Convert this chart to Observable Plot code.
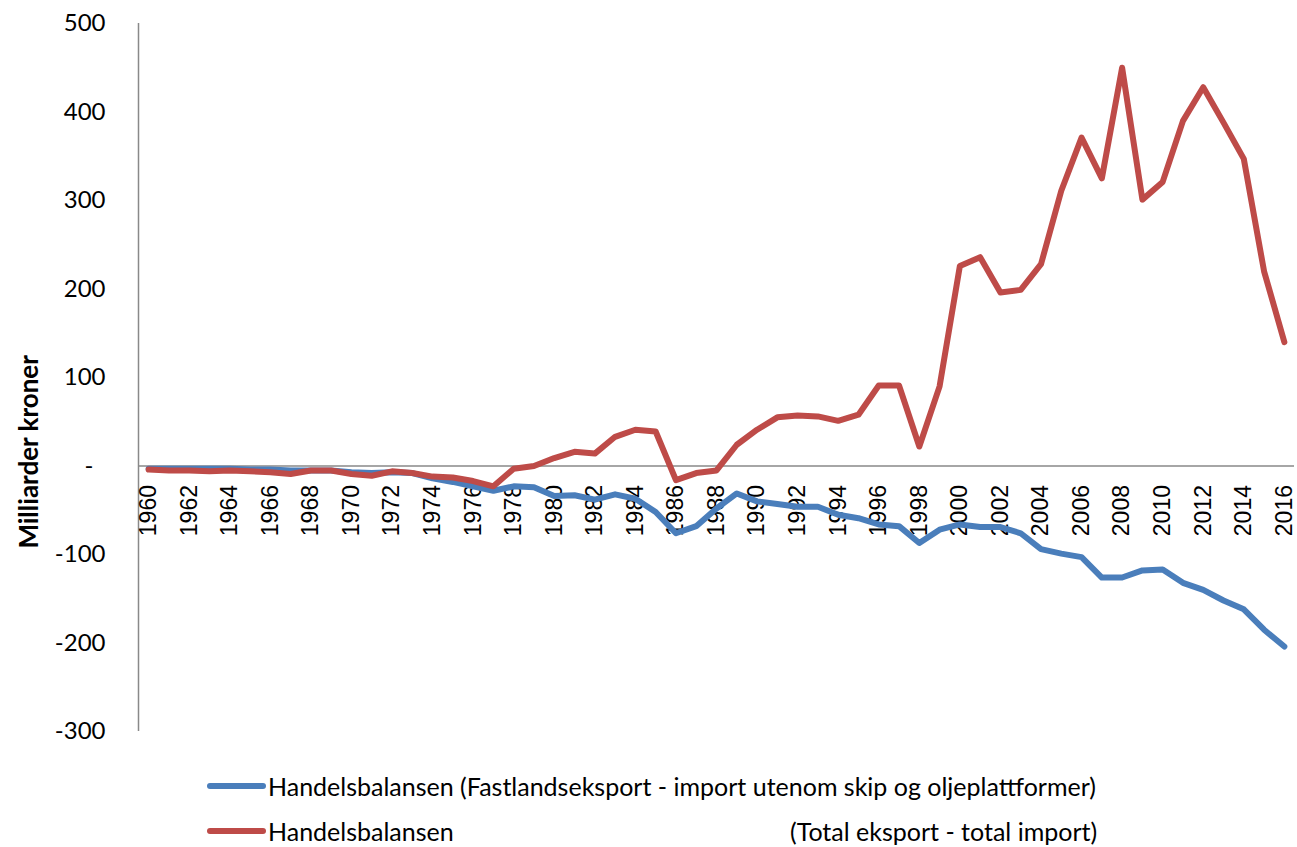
<!DOCTYPE html>
<html>
<head>
<meta charset="utf-8">
<script src="https://cdn.jsdelivr.net/npm/d3@7"></script>
<script src="https://cdn.jsdelivr.net/npm/@observablehq/plot@0.6"></script>
<style>
  body { margin: 0; background: #fff; }
  #wrap { position: relative; width: 1297px; height: 847px; font-family: Lato, "Noto Sans", sans-serif; }
  .leg-line { position: absolute; height: 6px; border-radius: 3px; }
  .leg-text { position: absolute; font-size: 25px; line-height: 30px; color: #000; white-space: pre; }
</style>
</head>
<body>
<div id="wrap"></div>
<script>
const years = d3.range(1960, 2017);
const fastland = [
  -3, -3, -3, -3, -3, -4, -4, -5, -5, -5,
  -7, -8, -7, -8, -14, -18, -23, -28, -23, -24,
  -34, -33, -38, -32, -37, -52, -76, -68, -48, -31,
  -40, -43, -46, -46, -55, -59, -66, -68, -87, -72,
  -66, -69, -69, -76, -94, -99, -103, -126, -126, -118,
  -117, -132, -140, -152, -162, -185, -204
];
const total = [
  -4, -5, -5, -6, -5, -6, -7, -9, -5, -5,
  -9, -11, -6, -8, -12, -13, -17, -23, -3, 0,
  9, 16, 14, 33, 41, 39, -16, -8, -5, 24,
  41, 55, 57, 56, 51, 58, 91, 91, 22, 90,
  226, 236, 196, 199, 228, 311, 371, 325, 450, 301,
  321, 390, 428, 388, 347, 220, 140
];
const yTicks = [-300, -200, -100, 0, 100, 200, 300, 400, 500];
const yearLabels = years.filter(y => y % 2 === 0);
const yTitle = "Milliarder kroner";
const seriesNames = [
  "Handelsbalansen (Fastlandseksport - import utenom skip og oljeplattformer)",
  "Handelsbalansen",
  "(Total eksport - total import)"
];
const colors = ["#4A7EBB", "#BE4B48"];

const blueData = years.map((year, i) => ({year, value: fastland[i]}));
const redData = years.map((year, i) => ({year, value: total[i]}));

const chart = Plot.plot({
  width: 1297,
  height: 760,
  marginLeft: 138,
  marginRight: 3,
  marginTop: 23,
  marginBottom: 29,
  style: {fontFamily: "Lato, 'Noto Sans', sans-serif", fontSize: "24px", color: "#000", background: "#fff"},
  x: {type: "linear", domain: [1959.5, 2016.5], axis: null},
  y: {domain: [-300, 500], axis: null},
  marks: [
    Plot.axisY({ticks: yTicks, tickSize: 0, tickPadding: 33, label: null,
      tickFormat: d => d === 0 ? "-\u2002" : String(d), fontSize: 24}),
    Plot.ruleX([1959.5], {y1: -300, y2: 500, stroke: "#898989", strokeWidth: 1.5}),
    Plot.ruleY([0], {x1: 1959.5, x2: 2016.5, stroke: "#898989", strokeWidth: 1.5}),
    Plot.text(yearLabels, {x: d => d, y: 0, text: d => String(d), rotate: -90,
      textAnchor: "end", dy: 19, fontSize: 23, fontFamily: "'Liberation Sans', Arial, sans-serif", fill: "#000"}),
    Plot.line(blueData, {x: "year", y: "value", stroke: colors[0], strokeWidth: 6,
      strokeLinejoin: "round", strokeLinecap: "round"}),
    Plot.line(redData, {x: "year", y: "value", stroke: colors[1], strokeWidth: 6,
      strokeLinejoin: "round", strokeLinecap: "round"}),
    Plot.text([yTitle], {y: () => 16, frameAnchor: "left", textAnchor: "middle", dx: -109, rotate: -90,
      fontWeight: "bold", fontSize: 26, fill: "#000"})
  ]
});

const wrap = document.getElementById("wrap");
wrap.appendChild(chart);

function legLine(color, cy) {
  const d = document.createElement("div");
  d.className = "leg-line";
  d.style.left = "207px"; d.style.width = "59px"; d.style.top = (cy - 3) + "px";
  d.style.background = color;
  wrap.appendChild(d);
}
function legText(txt, x, cy) {
  const d = document.createElement("div");
  d.className = "leg-text";
  d.style.left = x + "px"; d.style.top = (cy - 15) + "px";
  d.textContent = txt;
  wrap.appendChild(d);
}
legLine(colors[0], 786);
legText(seriesNames[0], 268, 786);
legLine(colors[1], 831);
legText(seriesNames[1], 268, 831);
legText(seriesNames[2], 790, 831);
</script>
</body>
</html>
